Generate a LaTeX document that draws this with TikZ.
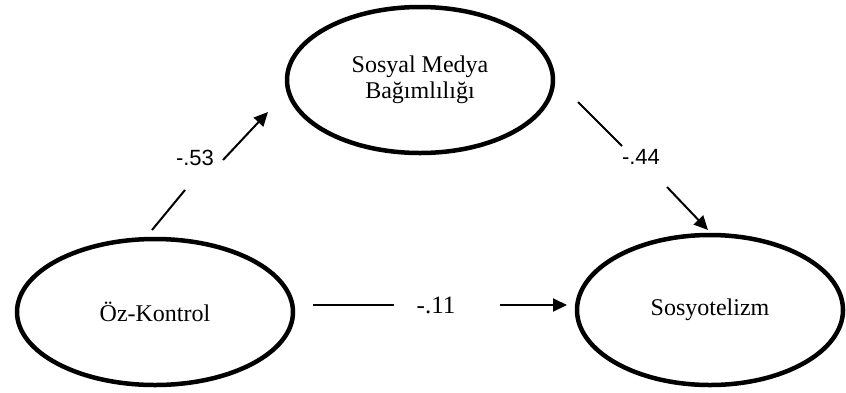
\documentclass[tikz,border=0pt]{standalone}
\usepackage{fontspec}
\setmainfont{Liberation Serif}
\newfontfamily\numfont{Liberation Sans}
\usetikzlibrary{shapes.geometric,arrows.meta}
\begin{document}
\begin{tikzpicture}[x=1pt,y=-1pt,
  latent/.style={ellipse,draw,line width=4.5pt,inner sep=0pt,align=center,
    font=\fontsize{24}{26}\selectfont},
  pathline/.style={line width=2pt},
  patharrow/.style={line width=2pt,-{Triangle[length=14pt,width=13pt]}},
  coef/.style={font=\fontsize{22}{26}\selectfont\numfont,inner sep=0pt},
  coefserif/.style={font=\fontsize{25}{26}\selectfont,inner sep=0pt}]
\useasboundingbox (0,0) rectangle (846,392);
\node[latent,minimum width=266pt,minimum height=146pt] (smb) at (420,80) {Sosyal Medya\\Bağımlılığı};
\node[latent,minimum width=276pt,minimum height=146pt] (oz) at (155,312) {Öz-Kontrol};
\node[latent,minimum width=266pt,minimum height=150pt] (sos) at (710,310) {Sosyotelizm};
% path oz -> smb
\coordinate (a1s) at (152,230);
\coordinate (a1e) at (185,190);
\coordinate (a1b) at (223,160);
\coordinate (a1t) at (268,112);
\draw[pathline] (a1s) -- (a1e);
\draw[patharrow] (a1b) -- (a1t);
\node[coef] (c1) at (195,158) {-.53};
% path smb -> sos
\coordinate (a2s) at (578,102);
\coordinate (a2e) at (622,146);
\coordinate (a2b) at (667,187);
\coordinate (a2t) at (708,230);
\draw[pathline] (a2s) -- (a2e);
\draw[patharrow] (a2b) -- (a2t);
\node[coef] (c2) at (641,157) {-.44};
% path oz -> sos
\coordinate (a3s) at (313,305);
\coordinate (a3e) at (394,305);
\coordinate (a3b) at (500,305);
\coordinate (a3t) at (567,305);
\draw[pathline] (a3s) -- (a3e);
\draw[patharrow] (a3b) -- (a3t);
\node[coefserif] (c3) at (436,305) {-.11};
\end{tikzpicture}
\end{document}
